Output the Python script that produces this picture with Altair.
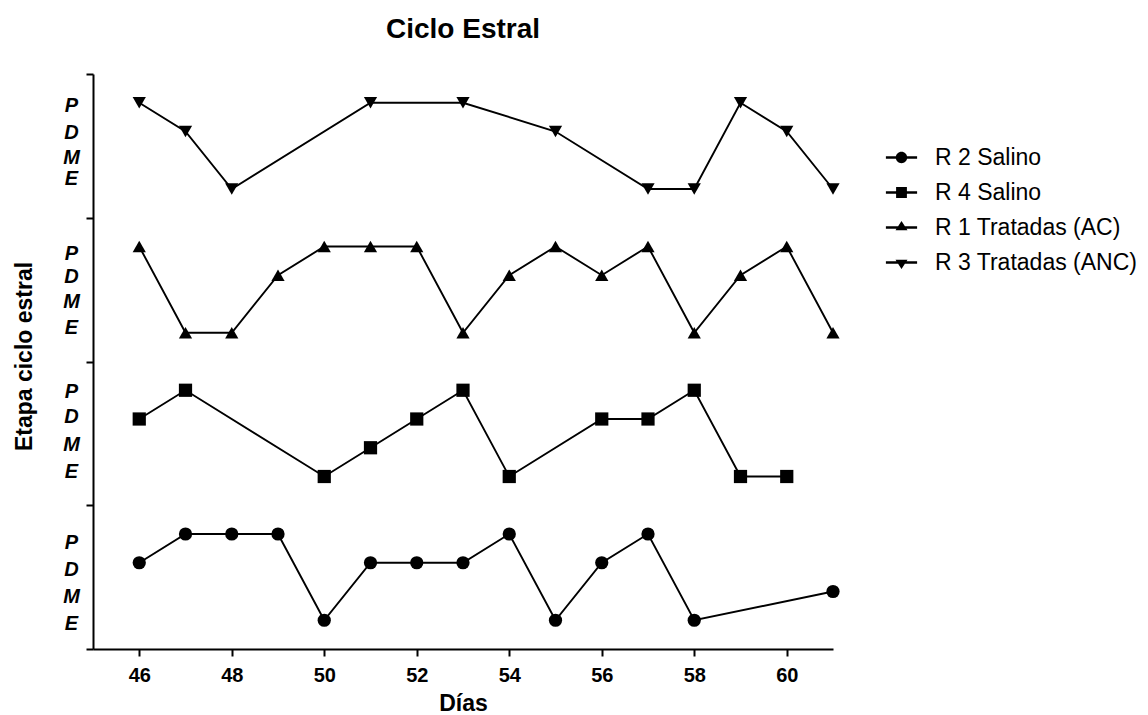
import altair as alt
import pandas as pd

# ---- data ----
series_names = ["R 2 Salino", "R 4 Salino", "R 1 Tratadas (AC)", "R 3 Tratadas (ANC)"]
series_shapes = ["circle", "square", "triangle-up", "triangle-down"]
band_offsets = [0, 5, 10, 15]

r2_days = [46, 47, 48, 49, 50, 51, 52, 53, 54, 55, 56, 57, 58, 61]
r2_stage = ["D", "P", "P", "P", "E", "D", "D", "D", "P", "E", "D", "P", "E", "M"]

r4_days = [46, 47, 50, 51, 52, 53, 54, 56, 57, 58, 59, 60]
r4_stage = ["D", "P", "E", "M", "D", "P", "E", "D", "D", "P", "E", "E"]

r1_days = [46, 47, 48, 49, 50, 51, 52, 53, 54, 55, 56, 57, 58, 59, 60, 61]
r1_stage = ["P", "E", "E", "D", "P", "P", "P", "E", "D", "P", "D", "P", "E", "D", "P", "E"]

r3_days = [46, 47, 48, 51, 53, 55, 57, 58, 59, 60, 61]
r3_stage = ["P", "D", "E", "P", "P", "D", "E", "E", "P", "D", "E"]

stage_names = ["E", "M", "D", "P"]          # bottom -> top inside each band
x_ticks = [46, 48, 50, 52, 54, 56, 58, 60]
band_edges = [0, 5, 10, 15, 20]
# where the P/D/M/E labels sit on the y axis
y_label_pos = [0.90, 1.81, 2.75, 3.72,
               6.19, 7.13, 8.07, 8.94,
               11.17, 12.07, 12.94, 13.77,
               16.38, 17.11, 17.95, 18.92]

# legend glyphs: marker with a line through it
legend_paths = [
    "M-2.6,-0.22H2.6V0.22H-2.6Z M0.95,0A0.95,0.95 0 1,1 -0.95,0A0.95,0.95 0 1,1 0.95,0Z",
    "M-2.6,-0.22H2.6V0.22H-2.6Z M-0.9,-0.9H0.9V0.9H-0.9Z",
    "M-2.6,-0.22H2.6V0.22H-2.6Z M0,-1.1L1.0,0.45H-1.0Z",
    "M-2.6,-0.22H2.6V0.22H-2.6Z M-1.0,-0.45H1.0L0,1.1Z",
]

rows = []
for name, off, days, stages in zip(series_names, band_offsets,
                                   [r2_days, r4_days, r1_days, r3_days],
                                   [r2_stage, r4_stage, r1_stage, r3_stage]):
    for d, s in zip(days, stages):
        rows.append({"serie": name, "dia": d, "etapa": s,
                     "y": off + stage_names.index(s) + 1})
df = pd.DataFrame(rows)

FONT = "Liberation Sans"

x_enc = alt.X(
    "dia:Q",
    scale=alt.Scale(domain=[45, 61], nice=False, zero=False),
    axis=alt.Axis(
        values=x_ticks, title="Días", grid=False,
        domainColor="black", domainWidth=2,
        tickColor="black", tickWidth=2, tickSize=7,
        labelFont=FONT, labelFontSize=20, labelFontWeight="bold",
        labelColor="black", labelPadding=9,
        titleFont=FONT, titleFontSize=23, titleFontWeight="bold",
        titleColor="black", titlePadding=7,
    ),
)

label_expr = ("datum.value % 5 === 0 ? '' : (datum.value % 5 > 3.3 ? 'P' : "
              "(datum.value % 5 > 2.4 ? 'D' : (datum.value % 5 > 1.5 ? 'M' : 'E')))")

y_enc = alt.Y(
    "y:Q",
    scale=alt.Scale(domain=[0, 20], nice=False, zero=False),
    axis=alt.Axis(
        values=sorted(band_edges + y_label_pos), labelExpr=label_expr,
        title="Etapa ciclo estral", grid=False, labelOverlap=False,
        domainColor="black", domainWidth=2,
        tickColor="black", tickWidth=2, tickSize=7,
        tickOpacity={"condition": {"test": "datum.value % 5 === 0", "value": 1}, "value": 0},
        labelFont=FONT, labelFontSize=20, labelFontWeight="bold",
        labelFontStyle="italic", labelColor="black",
        labelAlign="center", labelPadding=15,
        titleFont=FONT, titleFontSize=23, titleFontWeight="bold",
        titleColor="black", titlePadding=26, titleY=282,
    ),
)

lines = alt.Chart(df).mark_line(color="black", strokeWidth=1.9).encode(
    x=x_enc, y=y_enc, detail="serie:N", order="dia:Q"
)

points = alt.Chart(df).mark_point(filled=True, color="black", opacity=1, size=175).encode(
    x=x_enc, y=y_enc,
    shape=alt.Shape("serie:N", scale=alt.Scale(domain=series_names, range=series_shapes),
                    legend=None),
)

legend_layer = alt.Chart(df).mark_point(filled=True, color="black", opacity=0, size=144).encode(
    x=x_enc, y=y_enc,
    shape=alt.Shape(
        "serie:N",
        scale=alt.Scale(domain=series_names, range=legend_paths),
        legend=alt.Legend(
            title=None, orient="none", legendX=797, legendY=72,
            padding=0, rowPadding=11, symbolSize=144,
            symbolOpacity=1, symbolFillColor="black", symbolStrokeColor="black",
            symbolStrokeWidth=0, labelOffset=22, labelLimit=400,
            labelFont=FONT, labelFontSize=23, labelColor="black",
        ),
    ),
)

chart = (
    alt.layer(lines, points, legend_layer)
    .resolve_scale(shape="independent")
    .properties(
        width=740, height=575,
        padding={"left": 5, "top": 8, "right": 0, "bottom": 0},
        title=alt.TitleParams(
            "Ciclo Estral", font=FONT, fontSize=28, fontWeight="bold",
            color="black", anchor="middle", frame="group", offset=20,
        ),
        background="white",
    )
    .configure_view(stroke=None)
)

chart.save("out.html", embed_options={"renderer": "svg", "actions": False})
